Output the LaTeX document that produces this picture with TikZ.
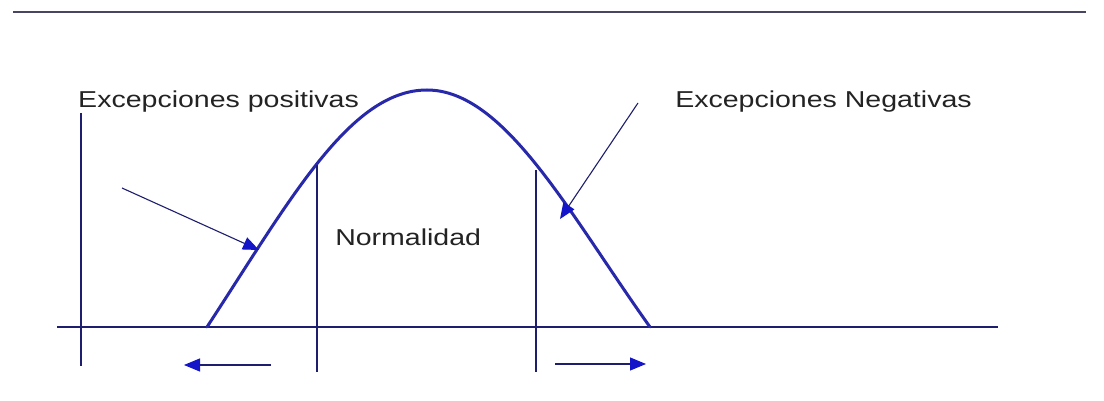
\documentclass[tikz,border=0pt]{standalone}
\usepackage{fontspec}
\setmainfont{Liberation Sans}
\usetikzlibrary{arrows.meta}
\definecolor{navy}{RGB}{30,30,110}
\definecolor{curveblue}{RGB}{40,40,170}
\definecolor{arrowblue}{RGB}{20,20,200}
\definecolor{txt}{RGB}{35,35,35}
\definecolor{topline}{RGB}{70,70,100}
\tikzset{
  thin line/.style={draw=navy, line width=1.3pt},
  bell/.style={draw=curveblue, line width=3pt, line cap=round, line join=round},
  pointer/.style={draw=navy, line width=1.1pt, -{Triangle[length=16pt,width=13pt,fill=arrowblue,color=arrowblue]}},
  label text/.style={font=\fontsize{23}{27}\selectfont, text=txt, xscale=1.24, inner sep=0pt, anchor=base west}
}
\begin{document}
\begin{tikzpicture}[x=1pt,y=-1pt]
\useasboundingbox (0,0) rectangle (1104,401);
\fill[white] (0,0) rectangle (1104,401);
% top rule
\coordinate (tl) at (13,12);
\coordinate (tr) at (1086,12);
\draw[draw=topline, line width=2.6pt] (tl) -- (tr);
% baseline axis
\coordinate (axl) at (57,327);
\coordinate (axr) at (998,327);
\draw[thin line] (axl) -- (axr);
% bell curve
\coordinate (c0) at (207,327);
\coordinate (peak) at (427,90);
\coordinate (c1) at (650,327);
\coordinate (vl) at (317,165);
\coordinate (vr) at (536,170);
\draw[bell] (c0) .. controls (290,200) and (350,90) .. (peak)
                 .. controls (505,90) and (570,215) .. (c1);
% vertical lines
\coordinate (v0t) at (81,113);
\coordinate (v0b) at (81,366);
\coordinate (vlb) at (317,372);
\coordinate (vrb) at (536,372);
\draw[thin line] (v0t) -- (v0b);
\draw[thin line] (vl) -- (vlb);
\draw[thin line] (vr) -- (vrb);
% labels
\node[label text] (pos) at (78,108) {Excepciones positivas};
\node[label text] (neg) at (675,108) {Excepciones Negativas};
\node[label text] (norm) at (335,245) {Normalidad};
% pointers to curve
\coordinate (p1s) at (122,188);
\coordinate (p1e) at (259,250);
\coordinate (p2s) at (638,103);
\coordinate (p2e) at (560,219);
\draw[pointer] (p1s) -- (p1e);
\draw[pointer] (p2s) -- (p2e);
% bottom arrows
\coordinate (a1s) at (271,365);
\coordinate (a1e) at (184,365);
\coordinate (a2s) at (555,364);
\coordinate (a2e) at (646,364);
\draw[pointer] (a1s) -- (a1e);
\draw[pointer] (a2s) -- (a2e);
\end{tikzpicture}
\end{document}
